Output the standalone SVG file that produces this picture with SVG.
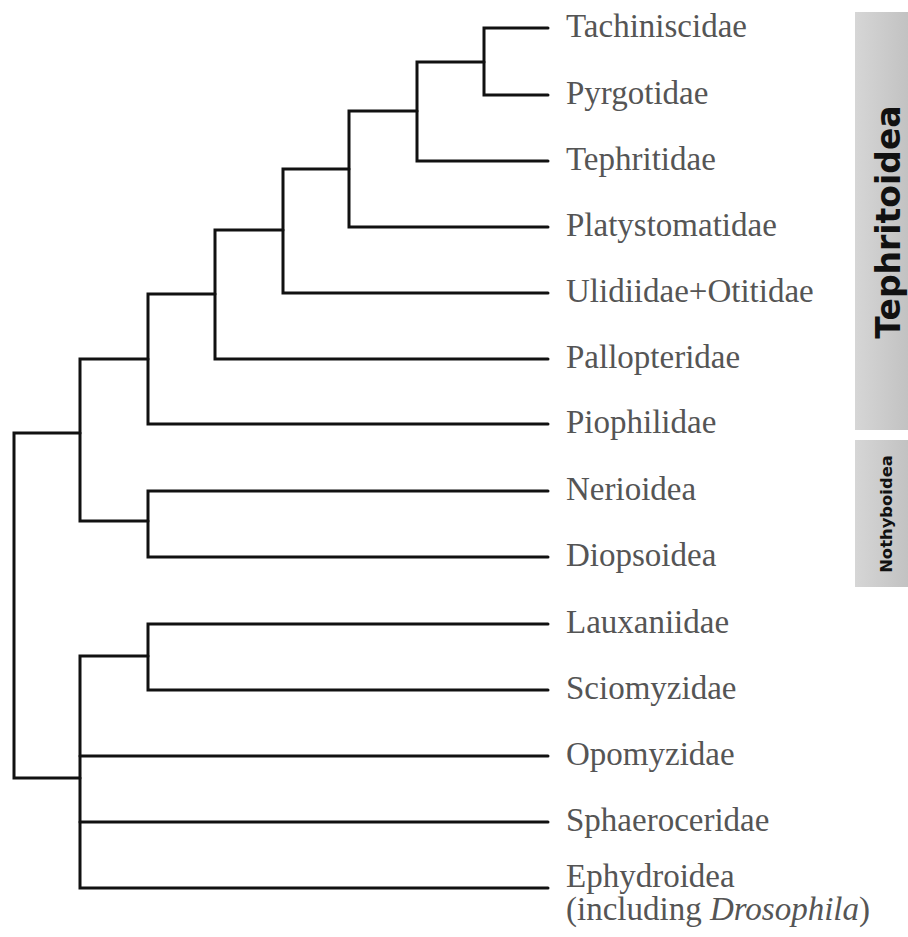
<svg xmlns="http://www.w3.org/2000/svg" width="908" height="937" viewBox="0 0 908 937">
<defs>
<linearGradient id="barGrad" x1="0" y1="0" x2="1" y2="0">
<stop offset="0" stop-color="#d6d6d6"/>
<stop offset="1" stop-color="#c2c2c2"/>
</linearGradient>
</defs>
<style>
.br{fill:none;stroke:#111;stroke-width:3;stroke-linejoin:miter;stroke-linecap:round}
.lb{font-family:"Liberation Serif","Times New Roman",serif;font-size:33px;fill:#555}
.grp{font-family:"DejaVu Sans",Verdana,sans-serif;font-weight:bold;fill:#111;text-anchor:middle}
.bar{fill:url(#barGrad)}
</style>
<rect width="908" height="937" fill="#fff"/>
<g id="connectors">
<path class="br" d="M548 28 H484 V95 H548"/>
<path class="br" d="M484 62 H417 V161 H548"/>
<path class="br" d="M417 111 H349 V227 H548"/>
<path class="br" d="M349 169 H283 V293 H548"/>
<path class="br" d="M283 230 H215 V359 H548"/>
<path class="br" d="M215 294 H148 V424 H548"/>
<path class="br" d="M548 491 H148 V557 H548"/>
<path class="br" d="M148 359 H80 V521 H148"/>
<path class="br" d="M548 624 H148 V690 H548"/>
<path class="br" d="M148 656 H80 V888 H548"/>
<path class="br" d="M80 756 H548"/>
<path class="br" d="M80 822 H548"/>
<path class="br" d="M80 433 H14 V778 H80"/>
</g>
<g id="Tachiniscidae"><text class="lb" x="566" y="37">Tachiniscidae</text></g>
<g id="Pyrgotidae"><text class="lb" x="566" y="104">Pyrgotidae</text></g>
<g id="Tephritidae"><text class="lb" x="566" y="170">Tephritidae</text></g>
<g id="Platystomatidae"><text class="lb" x="566" y="236">Platystomatidae</text></g>
<g id="Ulidiidae"><text class="lb" x="566" y="302">Ulidiidae+Otitidae</text></g>
<g id="Pallopteridae"><text class="lb" x="566" y="368">Pallopteridae</text></g>
<g id="Piophilidae"><text class="lb" x="566" y="433">Piophilidae</text></g>
<g id="Nerioidea"><text class="lb" x="566" y="500">Nerioidea</text></g>
<g id="Diopsoidea"><text class="lb" x="566" y="566">Diopsoidea</text></g>
<g id="Lauxaniidae"><text class="lb" x="566" y="633">Lauxaniidae</text></g>
<g id="Sciomyzidae"><text class="lb" x="566" y="699">Sciomyzidae</text></g>
<g id="Opomyzidae"><text class="lb" x="566" y="765">Opomyzidae</text></g>
<g id="Sphaeroceridae"><text class="lb" x="566" y="831">Sphaeroceridae</text></g>
<g id="Ephydroidea">
<text class="lb" x="566" y="887">Ephydroidea</text>
<text class="lb" x="566" y="920">(including <tspan font-style="italic">Drosophila</tspan>)</text>
</g>
<g id="Tephritoidea">
<rect class="bar" x="855" y="12" width="53" height="418"/>
<text class="grp" font-size="33" transform="translate(900,222) rotate(-90)">Tephritoidea</text>
</g>
<g id="Nothyboidea">
<rect class="bar" x="855" y="440" width="53" height="147"/>
<text class="grp" font-size="16.4" transform="translate(892,514) rotate(-90)">Nothyboidea</text>
</g>
</svg>
